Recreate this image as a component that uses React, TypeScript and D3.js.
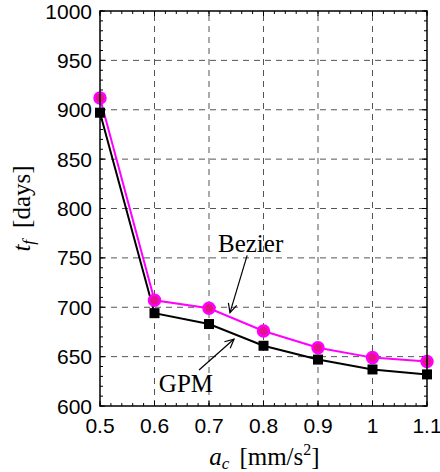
import * as d3 from "d3";

// a_c values [mm/s^2]
const accel = [0.5, 0.6, 0.7, 0.8, 0.9, 1.0, 1.1];
// flight time t_f [days]
const bezier = [912, 707, 699, 676, 659, 649, 645];
const gpm = [897, 694, 683, 661, 647, 637, 632];

const xTicks = [0.5, 0.6, 0.7, 0.8, 0.9, 1, 1.1];
const yTicks = [600, 650, 700, 750, 800, 850, 900, 950, 1000];

// annotations in data units: label position, arrow tail, arrow head
const notes = [
  { label: "Bezier", tx: 0.7165, ty: 756, x1: 0.77, y1: 752.5, x2: 0.7385, y2: 694.5 },
  { label: "GPM", tx: 0.608, ty: 614, x1: 0.6817, y1: 636.5, x2: 0.746, y2: 667.8 },
];

const W = 440;
const H = 472;
const m = { left: 100, right: 13, top: 11, bottom: 66 };

const sans = "'Liberation Sans', Arial, sans-serif";
const serif = "'Liberation Serif', 'Times New Roman', serif";

const App = () => {
  const x = d3.scaleLinear().domain([0.5, 1.1]).range([m.left, W - m.right]);
  const y = d3.scaleLinear().domain([600, 1000]).range([H - m.bottom, m.top]);
  const [x0, x1] = x.range();
  const [y0, y1] = y.range();

  const xMinor = d3.range(0.5, 1.1001, 0.02);
  const yMinor = d3.range(600, 1000.1, 10);

  const line = d3.line<number>()
    .x((d, i) => x(accel[i]))
    .y((d) => y(d));

  const arrowHead = (ax: number, ay: number, bx: number, by: number) => {
    const ang = Math.atan2(by - ay, bx - ax);
    const len = 10;
    const spread = 0.45;
    const p1 = [bx - len * Math.cos(ang - spread), by - len * Math.sin(ang - spread)];
    const p2 = [bx - len * Math.cos(ang + spread), by - len * Math.sin(ang + spread)];
    return `M${p1[0]},${p1[1]}L${bx},${by}L${p2[0]},${p2[1]}`;
  };

  return (
    <svg width={W} height={H} style={{ position: "absolute", left: 0, top: 0, background: "#fff" }}>
      {/* grid */}
      <g stroke="#555" strokeWidth={1} strokeDasharray="6,5">
        {xTicks.slice(1, -1).map((t) => (
          <line key={"gx" + t} x1={x(t)} x2={x(t)} y1={y0} y2={y1} />
        ))}
        {yTicks.slice(1, -1).map((t) => (
          <line key={"gy" + t} x1={x0} x2={x1} y1={y(t)} y2={y(t)} />
        ))}
      </g>

      {/* ticks, inward on all four sides */}
      <g stroke="#000" strokeWidth={1}>
        {xMinor.map((t, i) => (
          <g key={"mx" + i}>
            <line x1={x(t)} x2={x(t)} y1={y0} y2={y0 - 3} />
            <line x1={x(t)} x2={x(t)} y1={y1} y2={y1 + 3} />
          </g>
        ))}
        {yMinor.map((t, i) => (
          <g key={"my" + i}>
            <line x1={x0} x2={x0 + 3} y1={y(t)} y2={y(t)} />
            <line x1={x1} x2={x1 - 3} y1={y(t)} y2={y(t)} />
          </g>
        ))}
        {xTicks.map((t) => (
          <g key={"tx" + t}>
            <line x1={x(t)} x2={x(t)} y1={y0} y2={y0 - 5} />
            <line x1={x(t)} x2={x(t)} y1={y1} y2={y1 + 5} />
          </g>
        ))}
        {yTicks.map((t) => (
          <g key={"ty" + t}>
            <line x1={x0} x2={x0 + 5} y1={y(t)} y2={y(t)} />
            <line x1={x1} x2={x1 - 5} y1={y(t)} y2={y(t)} />
          </g>
        ))}
      </g>

      {/* series */}
      <path d={line(bezier) ?? ""} fill="none" stroke="#ff00ff" strokeWidth={2} />
      <path d={line(gpm) ?? ""} fill="none" stroke="#000" strokeWidth={2} />
      {bezier.map((v, i) => (
        <circle key={"b" + i} cx={x(accel[i])} cy={y(v)} r={5.5} fill="#e6128c" stroke="#ff00ff" strokeWidth={2.5} />
      ))}
      {gpm.map((v, i) => (
        <rect key={"g" + i} x={x(accel[i]) - 5} y={y(v) - 5} width={10} height={10} fill="#000" />
      ))}

      {/* annotations */}
      {notes.map((n) => (
        <g key={n.label}>
          <text x={x(n.tx)} y={y(n.ty)} fontFamily={serif} fontSize={25} fill="#000">
            {n.label}
          </text>
          <line x1={x(n.x1)} y1={y(n.y1)} x2={x(n.x2)} y2={y(n.y2)} stroke="#000" strokeWidth={1.2} />
          <path
            d={arrowHead(x(n.x1), y(n.y1), x(n.x2), y(n.y2))}
            fill="none"
            stroke="#000"
            strokeWidth={1.2}
          />
        </g>
      ))}

      {/* axes box */}
      <rect x={x0} y={y1} width={x1 - x0} height={y0 - y1} fill="none" stroke="#000" strokeWidth={1.5} />

      {/* tick labels */}
      <g fontFamily={sans} fontSize={21} fill="#000">
        {xTicks.map((t) => (
          <text key={"lx" + t} x={x(t)} y={y0 + 27} textAnchor="middle">
            {String(t)}
          </text>
        ))}
        {yTicks.map((t) => (
          <text key={"ly" + t} x={x0 - 8} y={y(t) + 7.5} textAnchor="end">
            {t}
          </text>
        ))}
      </g>

      {/* axis titles */}
      <text x={(x0 + x1) / 2 + 1} y={465} textAnchor="middle" fontFamily={serif} fontSize={25} fill="#000">
        <tspan fontStyle="italic">a</tspan>
        <tspan fontStyle="italic" fontSize={17} dy={4}>c</tspan>
        <tspan dx={10} dy={-4}>[mm/s</tspan>
        <tspan fontSize={16} dy={-10}>2</tspan>
        <tspan dy={10}>]</tspan>
      </text>
      <text
        transform={`translate(30, ${(y0 + y1) / 2}) rotate(-90)`}
        textAnchor="middle"
        fontFamily={serif}
        fontSize={25}
        fill="#000"
      >
        <tspan fontStyle="italic">t</tspan>
        <tspan fontStyle="italic" fontSize={17} dy={4}>f</tspan>
        <tspan dx={12} dy={-4}>[days]</tspan>
      </text>
    </svg>
  );
};

export default App;
